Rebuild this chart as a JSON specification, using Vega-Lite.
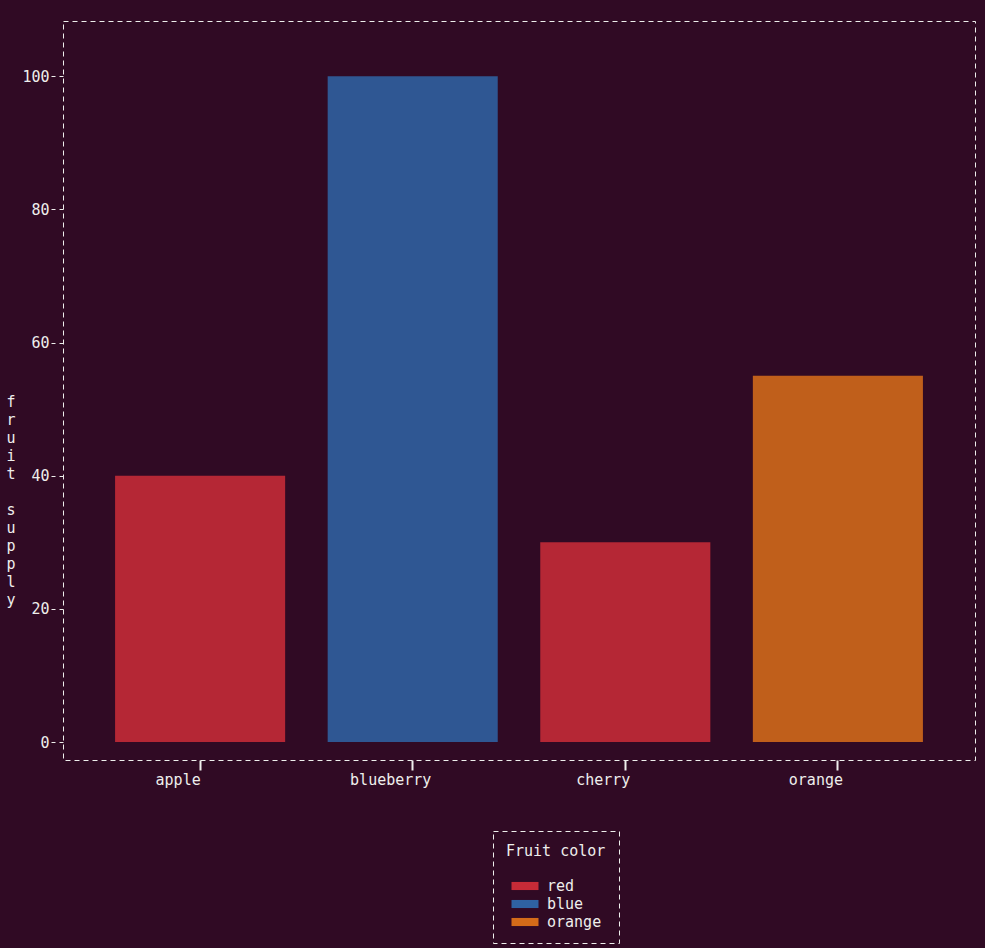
{
  "$schema": "https://vega.github.io/schema/vega-lite/v6.json",
  "background": "#300a24",
  "autosize": "none",
  "padding": {"left": 63, "top": 21, "right": 10, "bottom": 188},
  "width": 912,
  "height": 739,
  "data": {
    "values": [
      {"fruit": "apple", "supply": 40, "color": "red"},
      {"fruit": "blueberry", "supply": 100, "color": "blue"},
      {"fruit": "cherry", "supply": 30, "color": "red"},
      {"fruit": "orange", "supply": 55, "color": "orange"}
    ]
  },
  "mark": {"type": "bar", "fillOpacity": 0.75},
  "encoding": {
    "x": {
      "field": "fruit",
      "type": "nominal",
      "sort": null,
      "scale": {"paddingInner": 0.2, "paddingOuter": 0.245},
      "axis": {
        "title": null,
        "labelAngle": 0,
        "domain": false,
        "ticks": true,
        "tickSize": 10,
        "tickWidth": 2,
        "tickColor": "#eeeeec",
        "labelPadding": 2,
        "labelOffset": -22,
        "labelFont": "DejaVu Sans Mono",
        "labelFontSize": 15,
        "labelColor": "#eeeeec"
      }
    },
    "y": {
      "field": "supply",
      "type": "quantitative",
      "scale": {"domain": [-2.7, 108.3], "nice": false, "zero": false},
      "axis": {
        "title": ["f", "r", "u", "i", "t", "\u2800", "s", "u", "p", "p", "l", "y"],
        "titleAngle": 0,
        "titleAlign": "left",
        "titleBaseline": "top",
        "titleX": -57,
        "titleY": 373,
        "titleLineHeight": 18,
        "titleFont": "DejaVu Sans Mono",
        "titleFontSize": 15,
        "titleFontWeight": "normal",
        "titleColor": "#eeeeec",
        "values": [0, 20, 40, 60, 80, 100],
        "grid": false,
        "domain": false,
        "tickSize": 13,
        "tickWidth": 1.2,
        "tickColor": "#eeeeec",
        "labelPadding": 1,
        "labelFont": "DejaVu Sans Mono",
        "labelFontSize": 15,
        "labelColor": "#eeeeec"
      }
    },
    "color": {
      "field": "color",
      "type": "nominal",
      "scale": {"domain": ["red", "blue", "orange"], "range": ["#e2313b", "#2f72b8", "#f07c18"]},
      "legend": {
        "title": "Fruit color",
        "orient": "none",
        "legendX": 430,
        "legendY": 810,
        "padding": 13,
        "strokeColor": "#eeeeec",
        "titleFont": "DejaVu Sans Mono",
        "titleFontSize": 15,
        "titleFontWeight": "normal",
        "titleColor": "#eeeeec",
        "titlePadding": 17,
        "labelFont": "DejaVu Sans Mono",
        "labelFontSize": 15,
        "labelColor": "#eeeeec",
        "symbolType": "M-1.5,-0.45H1.5V0.45H-1.5Z",
        "symbolSize": 324,
        "symbolOpacity": 0.85,
        "symbolOffset": 9,
        "labelOffset": 12,
        "rowPadding": 0,
        "encode": {
          "legend": {"update": {"strokeDash": {"value": [5, 4]}}}
        }
      }
    }
  },
  "config": {
    "view": {"stroke": "#eeeeec", "strokeDash": [5, 4], "strokeWidth": 1},
    "axisY": {"tickDash": [4, 4]}
  }
}
